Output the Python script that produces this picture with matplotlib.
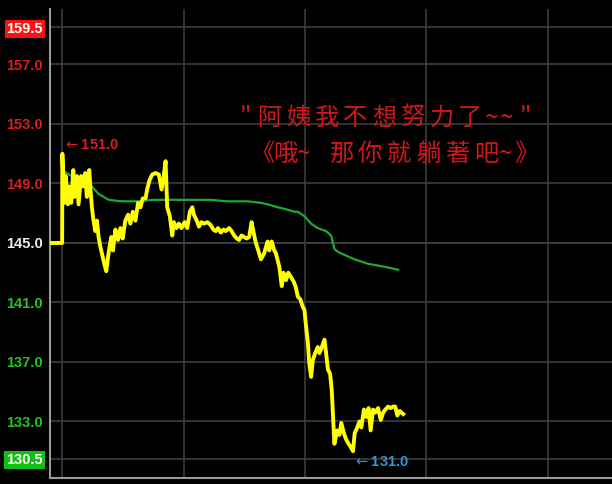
import matplotlib
matplotlib.use("Agg")
import matplotlib.pyplot as plt

# intraday minutes (0 = open) and prices
price_minutes = [-6, 0, 0.1, 1.1, 1.8, 2.8, 3.5, 4.5, 5.5, 6.1, 7.3, 8.1, 9.4, 10.4, 11.4,
                 12.2, 13.4, 14.0, 14.7, 15.5, 16.4, 17.2, 18.0, 18.8, 20.0, 21.0, 21.8,
                 22.7, 23.5, 24.3, 25.1, 26.3, 27.6, 28.8, 29.9, 31.2, 32.6, 33.7, 34.9,
                 36.2, 37.5, 38.7, 39.8, 41.2, 42.0, 43.1, 44.5, 46.1, 47.8, 49.1, 50.2,
                 51.1, 51.9, 53.2, 54.4, 55.2, 56.5, 57.7, 58.9, 60.5, 61.8, 63.1, 64.3,
                 65.1, 66.5, 67.6, 68.8, 70.1, 71.8, 73.4, 74.7, 75.9, 77.0, 78.4, 79.7,
                 80.8, 82.5, 83.7, 85.0, 86.3, 87.4, 88.6, 89.9, 91.2, 92.4, 93.6, 94.6,
                 95.7, 96.9, 98.2, 99.8, 101.5, 102.3, 103.5, 104.8, 105.6, 107.3, 108.5,
                 109.4, 110.6, 111.7, 113.1, 114.4, 115.5, 116.4, 117.7, 118.9, 119.7,
                 120.5, 121.4, 122.1, 123.0, 123.8, 125.0, 126.3, 127.1, 128.3, 129.6,
                 130.4, 131.3, 132.4, 133.2, 133.9, 134.5, 135.9, 137.0, 137.9, 139.2,
                 140.3, 141.5, 142.5, 143.7, 144.5, 145.8, 146.9, 147.8, 149.1, 150.3,
                 151.4, 152.4, 153.6, 154.7, 156.1, 157.4, 158.6, 159.7, 161.0, 162.3,
                 163.5, 164.6, 165.6, 166.8, 168.5]
prices = [145.0, 145.0, 151.0, 147.7, 149.5, 147.6, 148.8, 147.7, 149.9, 148.1, 149.5,
          147.6, 149.5, 148.8, 149.7, 148.1, 149.9, 148.6, 147.4, 146.5, 145.8, 146.5,
          145.4, 144.8, 144.1, 143.5, 143.1, 144.1, 144.8, 145.4, 144.5, 145.9, 145.2,
          146.0, 145.3, 146.5, 146.9, 146.3, 147.1, 146.5, 147.7, 147.4, 148.0, 148.0,
          148.6, 149.2, 149.6, 149.7, 149.6, 148.6, 149.5, 150.5, 147.4, 146.8, 145.5,
          146.4, 146.0, 146.3, 146.0, 146.4, 146.0, 147.1, 147.4, 146.9, 146.5, 146.1,
          146.4, 146.3, 146.4, 146.2, 145.9, 145.8, 146.0, 145.7, 145.9, 145.8, 146.0,
          145.8, 145.5, 145.3, 145.2, 145.5, 145.4, 145.3, 145.4, 146.4, 145.7, 145.0,
          144.5, 143.9, 144.3, 145.1, 144.5, 145.1, 144.5, 144.3, 143.4, 142.1, 143.0,
          142.5, 143.0, 142.7, 142.4, 142.0, 141.4, 141.2, 140.7, 140.5, 139.4, 138.3,
          136.9, 136.0, 137.1, 137.6, 138.0, 137.6, 138.0, 138.5, 137.6, 136.5, 136.2,
          135.1, 133.1, 131.5, 132.4, 132.1, 132.9, 132.2, 131.8, 131.5, 131.3, 131.0,
          132.2, 132.6, 133.0, 132.6, 133.8, 133.3, 133.9, 132.4, 133.8, 133.6, 133.9,
          133.1, 133.6, 133.8, 134.0, 133.9, 134.0, 134.0, 133.4, 133.7, 133.5]

avg_minutes = [1.1, 8.1, 14.7, 18.0, 23.0, 29.6, 37.8, 44.5, 51.1, 60.2, 73.4, 81.7, 91.6,
               98.2, 101.5, 106.5, 109.7, 114.7, 116.4, 119.7, 123.0, 126.3, 130.4, 132.9,
               134.5, 136.2, 139.5, 144.5, 151.1, 159.3, 166.0]
avg_prices = [149.8, 149.2, 148.8, 148.3, 147.9, 147.8, 147.8, 147.9, 147.9, 147.9, 147.9,
              147.8, 147.8, 147.7, 147.6, 147.4, 147.3, 147.1, 147.1, 146.8, 146.3, 146.0,
              145.8, 145.5, 144.6, 144.4, 144.2, 143.9, 143.6, 143.4, 143.2]

tick_values = [159.5, 157.0, 153.0, 149.0, 145.0, 141.0, 137.0, 133.0, 130.5]
tick_labels = ["159.5", "157.0", "153.0", "149.0", "145.0", "141.0", "137.0", "133.0", "130.5"]
time_ticks = [0, 60, 120, 180, 240]

high_value = 151.0
low_value = 131.0
ref_price = 145.0

caption_1 = "\"阿姨我不想努力了~~\""
caption_2 = "《哦~ 那你就躺著吧~》"

RED = "#d81e1e"
GREEN = "#22c322"
W, H = 612, 484

fig = plt.figure(figsize=(W / 100, H / 100), dpi=100, facecolor="black")
ax = fig.add_axes([50 / W, 6 / H, 1 - 50 / W + 0.02, 469 / H])
ax.set_facecolor("black")

ax.set_xlim(-6, 277.7)
ax.set_ylim(129.2, 160.73)

ax.set_xticks(time_ticks)
ax.set_xticklabels([])
ax.set_yticks(tick_values)
ax.set_yticklabels(tick_labels)
ax.tick_params(axis="both", length=0)
ax.tick_params(axis="y", pad=5)
ax.grid(True, color="#3c3c3c", linewidth=1.2)
ax.axhline(ref_price, color="#3d5060", linewidth=1.2, zorder=1)

for side in ["top", "right"]:
    ax.spines[side].set_visible(False)
for side in ["left", "bottom"]:
    ax.spines[side].set_color("#9a9a9a")
    ax.spines[side].set_linewidth(1.5)

for lbl, val in zip(ax.get_yticklabels(), tick_values):
    lbl.set_family(["Liberation Sans", "DejaVu Sans"])
    lbl.set_fontsize(10.5)
    lbl.set_fontweight("bold")
    if val == tick_values[0]:
        lbl.set_color("white")
        lbl.set_bbox(dict(facecolor="#ff1010", edgecolor="none", pad=1.5))
    elif val == tick_values[-1]:
        lbl.set_color("white")
        lbl.set_bbox(dict(facecolor="#10c010", edgecolor="none", pad=1.5))
    elif val > ref_price:
        lbl.set_color(RED)
    elif val < ref_price:
        lbl.set_color(GREEN)
    else:
        lbl.set_color("#e8eef4")

ax.plot(avg_minutes, avg_prices, color="#1fa83a", linewidth=1.6, zorder=3)
ax.plot(price_minutes, prices, color="#ffff00", linewidth=2.8, zorder=4)

lab_font = ["Liberation Sans", "DejaVu Sans"]
ax.text(0.3, high_value + 0.6, r"$\leftarrow$" + f"{high_value:.1f}", color=RED,
        fontsize=10.5, fontweight="bold", family=lab_font, ha="left", va="center")
ax.text(143.8, low_value - 0.72, r"$\leftarrow$" + f"{low_value:.1f}", color="#2f95dc",
        fontsize=10.5, fontweight="bold", family=lab_font, ha="left", va="center")

# captions: one glyph per cell, spaced out like the original
cjk = ["Noto Sans CJK TC", "DejaVu Sans"]
line1_x = [245, 270, 298.5, 327, 355.5, 384, 413, 441.5, 470, 492, 507, 526]
line2_x = [262, 285, 304, 320, 342, 370, 399, 428, 457, 486, 506, 526]
for text, xs, ypix in [(caption_1, line1_x, 118), (caption_2, line2_x, 154)]:
    for ch, xp in zip(text, xs):
        if ch == " ":
            continue
        fig.text(xp / W, 1 - ypix / H, ch, color="#d01818", fontsize=17.5,
                 fontweight="medium", family=cjk, ha="center", va="center")

fig.savefig("out.png", dpi=100, facecolor="black")
